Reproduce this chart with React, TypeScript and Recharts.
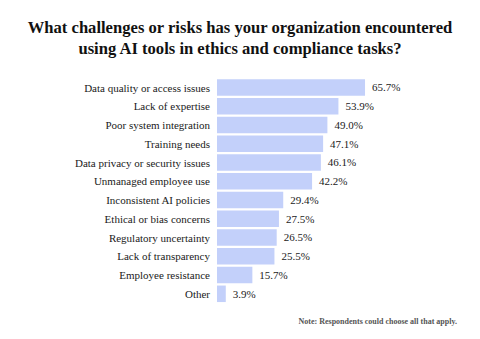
import { Bar, BarChart, LabelList, XAxis, YAxis } from "recharts"

const categories = [
  "Data quality or access issues",
  "Lack of expertise",
  "Poor system integration",
  "Training needs",
  "Data privacy or security issues",
  "Unmanaged employee use",
  "Inconsistent AI policies",
  "Ethical or bias concerns",
  "Regulatory uncertainty",
  "Lack of transparency",
  "Employee resistance",
  "Other",
]

const shares = [65.7, 53.9, 49.0, 47.1, 46.1, 42.2, 29.4, 27.5, 26.5, 25.5, 15.7, 3.9]

const data = categories.map((name, i) => ({ name, value: shares[i] }))

const serif = "'Liberation Serif', serif"

export default function App() {
  return (
    <div style={{ position: "absolute", left: 0, top: 0, width: 480, height: 339, background: "#fff", fontFamily: serif }}>
      <div
        style={{
          position: "absolute",
          top: 17,
          left: 0,
          width: 480,
          textAlign: "center",
          fontSize: 16.6,
          lineHeight: "21px",
          fontWeight: 700,
          color: "#111",
          whiteSpace: "nowrap",
        }}
      >
        What challenges or risks has your organization encountered
        <br />
        using AI tools in ethics and compliance tasks?
      </div>
      <BarChart
        width={480}
        height={339}
        data={data}
        layout="vertical"
        margin={{ top: 78.3, right: 37.7, bottom: 35.7, left: 0 }}
      >
        <XAxis type="number" domain={[0, 100]} hide />
        <YAxis
          dataKey="name"
          type="category"
          width={217}
          tickLine={false}
          axisLine={false}
          tickSize={0}
          tickMargin={7}
          interval={0}
          tick={{ fontSize: 11, fill: "#1a1a1a", fontFamily: serif }}
        />
        <Bar dataKey="value" fill="#c3d0fa" barSize={16.5} isAnimationActive={false}>
          <LabelList
            dataKey="value"
            position="right"
            offset={7}
            formatter={(v: number) => `${v.toFixed(1)}%`}
            style={{ fontSize: 11, fill: "#1a1a1a", fontFamily: serif }}
          />
        </Bar>
      </BarChart>
      <div
        style={{
          position: "absolute",
          top: 317,
          right: 23,
          fontSize: 8,
          fontWeight: 700,
          color: "#555",
        }}
      >
        Note: Respondents could choose all that apply.
      </div>
    </div>
  )
}
